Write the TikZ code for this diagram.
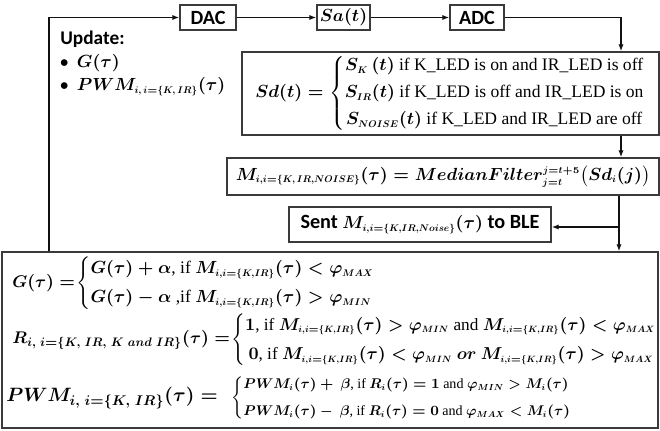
\documentclass[tikz,border=0pt]{standalone}
\usepackage{amsmath,amssymb}
\usepackage{fontspec}
\setmainfont{Liberation Serif}
\setsansfont{Carlito}
\DeclareFontShape{OML}{cmm}{b}{it}{<->cmmib10}{}
\DeclareFontShape{OMS}{cmsy}{b}{n}{<->cmbsy10}{}
\DeclareMathSizes{10}{10}{5.5}{4.5}
\DeclareMathSizes{11}{11}{8}{6}
\DeclareMathSizes{9.6}{9.6}{7}{5}
\DeclareMathSizes{9.8}{9.8}{5.2}{4}
\DeclareMathSizes{8}{8}{5}{4}
\usepackage{xcolor}
\usepackage{tikz}
\usetikzlibrary{calc,arrows.meta,positioning}
\definecolor{ink}{HTML}{111111}
\definecolor{frame}{HTML}{3A3A3A}
\newcommand{\eqsize}{\fontsize{10}{12}\selectfont}
\newcommand{\cond}[1]{\text{\rmfamily\mdseries #1}}

\tikzset{
  box/.style={draw=frame,line width=0.8pt,inner sep=0pt,align=center},
  flow/.style={color=ink,line width=0.7pt,-{Latex[length=4pt,width=3pt]}},
  tag/.style={font=\sffamily\bfseries\boldmath\fontsize{11.5}{13}\selectfont},
  eq/.style={font=\boldmath\eqsize,inner sep=0pt},
  lhs/.style={font=\boldmath\fontsize{9.6}{11.5}\selectfont,inner sep=0pt,anchor=west},
  rhs/.style={inner sep=0pt,anchor=west},
}

\begin{document}
\begin{tikzpicture}[x=0.02cm,y=-0.02cm]
  \useasboundingbox (0,0) rectangle (660,430);
  \coordinate (F) at (49,20);
  \coordinate (T) at (621,18);
  \coordinate (V) at (619,227);

  \node[box,tag,minimum width=1.12cm,minimum height=0.5cm] (dac) at (208,17.5) {DAC};
  \node[box,eq,minimum width=1.06cm,minimum height=0.5cm] (sa) at (343.5,17.5) {$Sa(t)$};
  \node[box,tag,minimum width=1.08cm,minimum height=0.5cm] (adc) at (477,17.5) {ADC};

  \node[box,eq,minimum width=8.34cm,minimum height=1.66cm] (sd) at (450.5,93.5)
    {$Sd(t) = \left\{\begin{array}{@{}c@{}}
      S_K\,(t)\cond{ if K\_LED is on and IR\_LED is off}\\[3.5pt]
      S_{IR}(t)\cond{ if K\_LED is off and IR\_LED is on}\\[3.5pt]
      S_{NOISE}(t)\cond{ if K\_LED and IR\_LED are off}
    \end{array}\right.$};
  \node[box,eq,minimum width=8.64cm,minimum height=0.74cm] (med) at (443,176.5)
    {$M_{i,i=\{K,\,IR,NOISE\}}(\tau) = MedianFilter_{j=t}^{j=t+5}\bigl(Sd_i(j)\bigr)$};
  \node[box,tag,minimum width=5.24cm,minimum height=0.7cm] (sent) at (420,224.5)
    {Sent {\eqsize$M_{i,i=\{K,IR,Noise\}}(\tau)$} to BLE};
  \node[box,minimum width=13.12cm,minimum height=3.52cm] (big) at (330,340) {};

  \node[tag,font=\sffamily\bfseries\boldmath\fontsize{11}{13}\selectfont,
        align=left,anchor=north west,inner sep=0pt] (upd) at (60,31)
    {Update:\\
     {\small\textbullet}\ \ {\eqsize$G(\tau)$}\\
     {\small\textbullet}\ \ {\eqsize$PWM_{i,\,i=\{K,\,IR\}}(\tau)$}};

  \node[lhs] (glhs) at (12,283) {$G(\tau) =$};
  \node[rhs,font=\boldmath\eqsize] (grhs) at (76,283)
    {$\begin{cases}
      G(\tau) + \alpha\cond{, if } M_{i,i=\{K,IR\}}(\tau) < \varphi_{MAX}\\[2pt]
      G(\tau) - \alpha\cond{ ,if } M_{i,i=\{K,IR\}}(\tau) > \varphi_{MIN}
    \end{cases}$};
  \node[lhs] (rlhs) at (12,340) {$R_{i,\ i=\{K,\ IR,\ K\ and\ IR\}}(\tau) =$};
  \node[rhs,font=\boldmath\fontsize{9.8}{11.8}\selectfont] (rrhs) at (231,340)
    {$\begin{cases}
      1\cond{, if } M_{i,i=\{K,IR\}}(\tau) > \varphi_{MIN}\cond{ and } M_{i,i=\{K,IR\}}(\tau) < \varphi_{MAX}\\[2.5pt]
      \,0\cond{, if } M_{i,i=\{K,IR\}}(\tau) < \varphi_{MIN}\ or\ M_{i,i=\{K,IR\}}(\tau) > \varphi_{MAX}
    \end{cases}$};
  \node[lhs,font=\boldmath\fontsize{11}{13}\selectfont] (plhs) at (6,398)
    {$PWM_{i,\ i=\{K,\ IR\}}(\tau) =$};
  \node[rhs,font=\boldmath\fontsize{8}{9.6}\selectfont] (prhs) at (231,398)
    {$\begin{cases}
      PWM_i(\tau) +\ \beta\cond{, if } R_i(\tau) = 1\cond{ and } \varphi_{MIN} > M_i(\tau)\\[3.5pt]
      PWM_i(\tau) -\ \beta\cond{, if } R_i(\tau) = 0\cond{ and } \varphi_{MAX} < M_i(\tau)
    \end{cases}$};

  \draw[flow] (dac) -- (sa);
  \draw[flow] (sa) -- (adc);
  \draw[flow] (adc.east) -| (T |- sd.north);
  \draw[flow] (sd.south -| T) -- (med.north -| T);
  \draw[flow] (med.south -| V) -- (big.north -| V);
  \draw[flow] (V) -- (V -| sent.east);
  \draw[flow] (big.north -| F) |- (dac.west);
\end{tikzpicture}
\end{document}
